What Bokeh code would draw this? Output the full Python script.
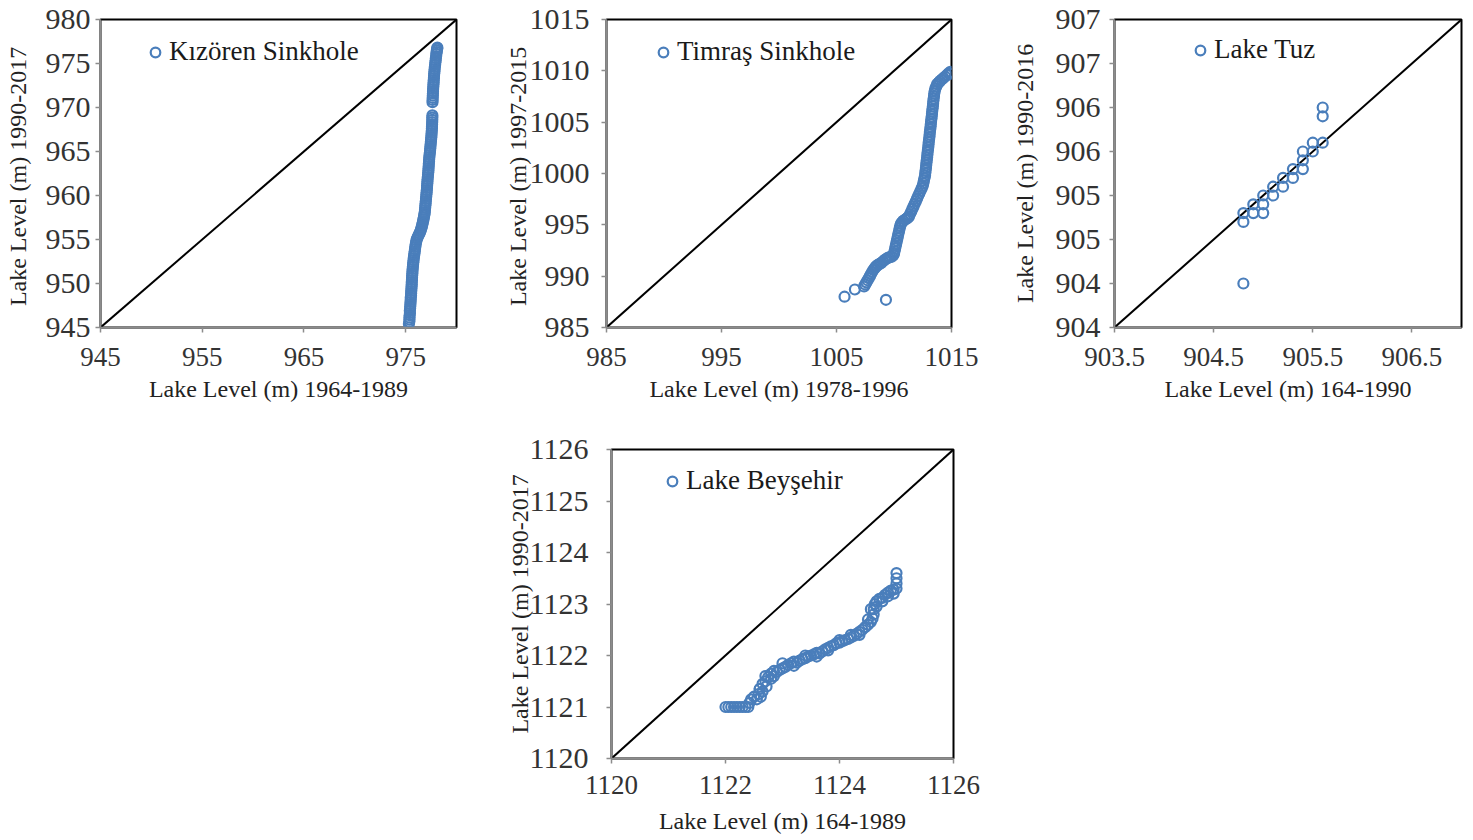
from bokeh.plotting import figure
from bokeh.models import Range1d, FixedTicker, NumeralTickFormatter, Legend, LegendItem, Spacer
from bokeh.layouts import column, row
from bokeh.embed import file_html
from bokeh.resources import INLINE

# ---------------- data ----------------
# Kızören Sinkhole
kiz_x = [975.32, 975.36, 975.38, 975.37, 975.40, 975.42, 975.41, 975.44, 975.45, 975.47,
         975.48, 975.50, 975.50, 975.53, 975.54, 975.55, 975.57, 975.58, 975.60, 975.60,
         975.62, 975.63, 975.64, 975.66, 975.67, 975.69, 975.71, 975.73, 975.75, 975.78,
         975.80, 975.83, 975.86, 975.89, 975.92, 975.95, 975.98, 976.02, 976.06, 976.12,
         976.20, 976.28, 976.36, 976.44, 976.50, 976.55, 976.60, 976.64, 976.68, 976.72,
         976.75, 976.79, 976.82, 976.85, 976.88, 976.90, 976.92, 976.94, 976.96, 976.98,
         977.00, 977.02, 977.04, 977.06, 977.08, 977.10, 977.11, 977.13, 977.14, 977.16,
         977.18, 977.20, 977.22, 977.24, 977.25, 977.27, 977.28, 977.30, 977.31, 977.33,
         977.35, 977.38, 977.40, 977.42, 977.44, 977.46, 977.48, 977.50, 977.52, 977.54,
         977.55, 977.57, 977.58, 977.59, 977.60, 977.61, 977.62, 977.62, 977.63,
         977.64, 977.65, 977.66, 977.67, 977.68, 977.69, 977.70, 977.72, 977.73, 977.75,
         977.76, 977.78, 977.79, 977.81, 977.83, 977.85, 977.87, 977.90, 977.92, 977.95,
         977.97, 978.00, 978.02, 978.05, 978.07, 978.10, 978.12]
kiz_y = [945.40, 945.65, 945.90, 946.15, 946.40, 946.65, 946.90, 947.15, 947.40, 947.65,
         947.90, 948.15, 948.40, 948.65, 948.90, 949.15, 949.40, 949.65, 949.90, 950.15,
         950.40, 950.65, 950.90, 951.15, 951.40, 951.65, 951.90, 952.15, 952.40, 952.65,
         952.90, 953.15, 953.40, 953.65, 953.90, 954.15, 954.40, 954.65, 954.90, 955.10,
         955.30, 955.50, 955.70, 955.90, 956.10, 956.30, 956.50, 956.70, 956.90, 957.10,
         957.30, 957.50, 957.70, 957.90, 958.10, 958.35, 958.60, 958.85, 959.10, 959.35,
         959.60, 959.85, 960.10, 960.35, 960.60, 960.85, 961.10, 961.35, 961.60, 961.85,
         962.10, 962.35, 962.60, 962.85, 963.10, 963.35, 963.60, 963.85, 964.10, 964.35,
         964.60, 964.85, 965.10, 965.35, 965.60, 965.85, 966.10, 966.35, 966.60, 966.85,
         967.10, 967.35, 967.60, 967.85, 968.10, 968.35, 968.60, 968.85, 969.10,
         970.60, 970.85, 971.10, 971.35, 971.60, 971.85, 972.10, 972.35, 972.60, 972.85,
         973.10, 973.35, 973.60, 973.85, 974.10, 974.35, 974.60, 974.85, 975.10, 975.35,
         975.60, 975.85, 976.10, 976.30, 976.50, 976.70, 976.80]

# Timraş Sinkhole
tim_x = [1005.7, 1006.6, 1009.3,
         1007.40, 1007.50, 1007.60, 1007.70, 1007.80, 1007.90, 1008.00, 1008.10, 1008.20, 1008.30,
         1008.40, 1008.50, 1008.60, 1008.75, 1008.90, 1009.05, 1009.20, 1009.35, 1009.50, 1009.65,
         1009.80, 1009.95, 1010.00, 1010.05, 1010.10, 1010.15, 1010.20, 1010.25, 1010.30, 1010.35,
         1010.40, 1010.45, 1010.50, 1010.55, 1010.60, 1010.70, 1010.80, 1010.95, 1011.10, 1011.20,
         1011.30, 1011.40, 1011.50, 1011.60, 1011.70, 1011.80, 1011.90, 1012.00, 1012.10, 1012.20,
         1012.30, 1012.40, 1012.50, 1012.55, 1012.60, 1012.65, 1012.70, 1012.72, 1012.75, 1012.78,
         1012.80, 1012.82, 1012.85, 1012.88, 1012.90, 1012.92, 1012.95, 1012.98, 1013.00, 1013.02,
         1013.05, 1013.08, 1013.10, 1013.12, 1013.15, 1013.18, 1013.20, 1013.22, 1013.25, 1013.28,
         1013.30, 1013.32, 1013.35, 1013.38, 1013.40, 1013.42, 1013.45, 1013.48, 1013.50, 1013.55,
         1013.60, 1013.68, 1013.75, 1013.88, 1014.00, 1014.15, 1014.30, 1014.45, 1014.60, 1014.75,
         1014.90, 1015.00]
tim_y = [988.0, 988.7, 987.7,
         989.00, 989.20, 989.40, 989.60, 989.80, 990.00, 990.20, 990.40, 990.60, 990.75,
         990.90, 991.00, 991.10, 991.20, 991.30, 991.45, 991.60, 991.70, 991.80, 991.85,
         991.90, 992.05, 992.20, 992.45, 992.70, 992.95, 993.20, 993.45, 993.70, 993.95,
         994.20, 994.45, 994.70, 994.90, 995.10, 995.25, 995.40, 995.50, 995.60, 995.70,
         995.80, 996.05, 996.30, 996.55, 996.80, 997.05, 997.30, 997.55, 997.80, 998.05,
         998.30, 998.55, 998.80, 999.05, 999.30, 999.55, 999.80, 1000.05, 1000.30, 1000.55,
         1000.80, 1001.05, 1001.30, 1001.55, 1001.80, 1002.05, 1002.30, 1002.55, 1002.80, 1003.05,
         1003.30, 1003.55, 1003.80, 1004.05, 1004.30, 1004.55, 1004.80, 1005.05, 1005.30, 1005.55,
         1005.80, 1006.05, 1006.30, 1006.55, 1006.80, 1007.05, 1007.30, 1007.55, 1007.80, 1008.05,
         1008.30, 1008.50, 1008.70, 1008.85, 1009.00, 1009.15, 1009.30, 1009.45, 1009.60, 1009.75,
         1009.90, 1009.70]

# Lake Tuz
tuz_x = [904.8, 904.8, 904.8, 904.9, 904.9, 905.0, 905.0, 905.0, 905.1, 905.1, 905.2,
         905.2, 905.3, 905.3, 905.4, 905.4, 905.4, 905.5, 905.5, 905.6, 905.6, 905.6]
tuz_y = [904.0, 904.7, 904.8, 904.8, 904.9, 904.8, 904.9, 905.0, 905.0, 905.1, 905.1,
         905.2, 905.2, 905.3, 905.3, 905.4, 905.5, 905.5, 905.6, 905.6, 905.9, 906.0]

# Lake Beyşehir
bey_x = [1122.00, 1122.05, 1122.10, 1122.15, 1122.20, 1122.25, 1122.30, 1122.35, 1122.40, 1122.42,
         1122.45, 1122.50, 1122.55, 1122.58, 1122.60, 1122.62, 1122.65, 1122.65, 1122.70, 1122.72,
         1122.75, 1122.80, 1122.85, 1122.90, 1122.95, 1123.00, 1123.05, 1123.10, 1123.15, 1123.20,
         1123.25, 1123.30, 1123.35, 1123.40, 1123.45, 1123.50, 1123.55, 1123.60, 1123.65, 1123.70,
         1123.75, 1123.80, 1123.85, 1123.90, 1123.95, 1124.00, 1124.05, 1124.10, 1124.15, 1124.20,
         1124.25, 1124.30, 1124.35, 1124.40, 1124.45, 1124.50, 1124.55, 1124.58, 1124.60, 1124.60,
         1124.62, 1124.65, 1124.70, 1124.75, 1124.80, 1124.85, 1124.90, 1124.95, 1125.00, 1125.00,
         1125.00, 1125.00,
         1122.60, 1122.70, 1122.80, 1122.85, 1123.00, 1123.20, 1123.40, 1123.60, 1123.80, 1124.00,
         1124.20, 1124.35, 1124.50, 1124.55, 1124.65, 1124.75, 1124.85, 1124.95]
bey_y = [1121.00, 1121.00, 1121.00, 1121.00, 1121.00, 1121.00, 1121.00, 1121.00, 1121.00, 1121.08,
         1121.15, 1121.20, 1121.15, 1121.25, 1121.35, 1121.20, 1121.30, 1121.45, 1121.50, 1121.40,
         1121.58, 1121.65, 1121.70, 1121.68, 1121.72, 1121.75, 1121.78, 1121.82, 1121.85, 1121.88,
         1121.86, 1121.90, 1121.93, 1121.95, 1121.98, 1122.00, 1122.02, 1122.05, 1122.04, 1122.08,
         1122.12, 1122.15, 1122.18, 1122.20, 1122.24, 1122.25, 1122.28, 1122.30, 1122.32, 1122.35,
         1122.38, 1122.42, 1122.46, 1122.50, 1122.55, 1122.60, 1122.65, 1122.72, 1122.80, 1122.90,
         1123.00, 1123.05, 1123.10, 1123.12, 1123.18, 1123.22, 1123.26, 1123.28, 1123.30, 1123.40,
         1123.50, 1123.60,
         1121.35, 1121.60, 1121.55, 1121.60, 1121.85, 1121.80, 1122.00, 1121.98, 1122.10, 1122.30,
         1122.40, 1122.40, 1122.70, 1122.90, 1122.95, 1123.05, 1123.15, 1123.20]

# 1:1 lines (axis extents)
kiz_diag = [945, 980]
tim_diag = [985, 1015]
tuz_diag = [903.5, 907]
bey_diag = [1120, 1126]

# ticks
kiz_xticks = [945, 955, 965, 975]
kiz_yticks = [945, 950, 955, 960, 965, 970, 975, 980]
tim_xticks = [985, 995, 1005, 1015]
tim_yticks = [985, 990, 995, 1000, 1005, 1010, 1015]
tuz_xticks = [903.5, 904.5, 905.5, 906.5]
tuz_yticks = [903.5, 904, 904.5, 905, 905.5, 906, 906.5, 907]
bey_xticks = [1120, 1122, 1124, 1126]
bey_yticks = [1120, 1121, 1122, 1123, 1124, 1125, 1126]

names = ["Kızören Sinkhole", "Timraş Sinkhole", "Lake Tuz", "Lake Beyşehir"]
xlabels = ["Lake Level (m) 1964-1989", "Lake Level (m) 1978-1996",
           "Lake Level (m) 164-1990", "Lake Level (m) 164-1989"]
ylabels = ["Lake Level (m)  1990-2017", "Lake Level (m)  1997-2015",
           "Lake Level (m) 1990-2016", "Lake Level (m) 1990-2017"]

FONT = "Liberation Serif"
BLUE = "#4A7EBB"
GRAY = "#8c8c8c"


def panel(xs, ys, diag, xticks, yticks, xlabel, ylabel, name,
          width, height, bl, br, bt, bb, leg_loc,
          ytick_standoff, ylab_standoff, xtick_standoff, xlab_standoff, yfmt=None):
    p = figure(width=width, height=height,
               x_range=Range1d(diag[0], diag[1]), y_range=Range1d(diag[0], diag[1]),
               output_backend="svg", toolbar_location=None,
               min_border_left=bl, min_border_right=br,
               min_border_top=bt, min_border_bottom=bb)
    p.grid.visible = False
    p.background_fill_color = "white"
    p.border_fill_color = "white"
    p.outline_line_color = "black"
    p.outline_line_width = 2
    p.line(diag, diag, line_color="black", line_width=2)
    r = p.scatter(xs, ys, size=10, marker="circle", fill_color=None,
                  line_color=BLUE, line_width=2.2)
    for ax in (p.xaxis[0], p.yaxis[0]):
        ax.axis_line_color = GRAY
        ax.axis_line_width = 1.5
        ax.major_tick_line_color = GRAY
        ax.major_tick_line_width = 1.5
        ax.major_tick_out = 5
        ax.major_tick_in = 0
        ax.minor_tick_line_color = None
        ax.major_label_text_font = FONT
        ax.major_label_text_color = "#333333"
        ax.axis_label_text_font = FONT
        ax.axis_label_text_font_style = "normal"
        ax.axis_label_text_color = "#222222"
        ax.axis_label_text_font_size = "24px"
    p.xaxis.ticker = FixedTicker(ticks=xticks)
    p.yaxis.ticker = FixedTicker(ticks=yticks)
    p.xaxis.major_label_text_font_size = "27px"
    p.yaxis.major_label_text_font_size = "30px"
    p.xaxis.major_label_standoff = xtick_standoff
    p.yaxis.major_label_standoff = ytick_standoff
    p.xaxis.axis_label = xlabel
    p.yaxis.axis_label = ylabel
    p.xaxis.axis_label_standoff = xlab_standoff
    p.yaxis.axis_label_standoff = ylab_standoff
    if yfmt is not None:
        p.yaxis.formatter = NumeralTickFormatter(format=yfmt)
    leg = Legend(items=[LegendItem(label=name, renderers=[r])], location=leg_loc)
    leg.label_text_font = FONT
    leg.label_text_font_size = "27px"
    leg.label_text_color = "#1a1a1a"
    leg.glyph_width = 24
    leg.glyph_height = 24
    leg.label_standoff = 2
    leg.padding = 0
    leg.margin = 0
    leg.spacing = 0
    leg.border_line_color = None
    leg.background_fill_alpha = 0
    p.add_layout(leg)
    return p


p1 = panel(kiz_x, kiz_y, kiz_diag, kiz_xticks, kiz_yticks, xlabels[0], ylabels[0], names[0],
           490, 422, 100, 34, 19, 95, (43, 260), 5, 12, 15, 7)
p2 = panel(tim_x, tim_y, tim_diag, tim_xticks, tim_yticks, xlabels[1], ylabels[1], names[1],
           500, 422, 116, 39, 19, 95, (45, 260), 12, -4, 15, 7)
p3 = panel(tuz_x, tuz_y, tuz_diag, tuz_xticks, tuz_yticks, xlabels[2], ylabels[2], names[2],
           483, 422, 124, 12, 19, 95, (74, 262), 9, 15, 15, 7, yfmt="0")
p4 = panel(bey_x, bey_y, bey_diag, bey_xticks, bey_yticks, xlabels[3], ylabels[3], names[3],
           493, 418, 121, 30, 27, 82, (49, 262), 18, -6, 12, 11)

layout = column(row(p1, p2, p3, spacing=0),
                row(Spacer(width=490, height=418), p4, spacing=0),
                spacing=0)

open("out.html", "w").write(file_html(layout, INLINE))
